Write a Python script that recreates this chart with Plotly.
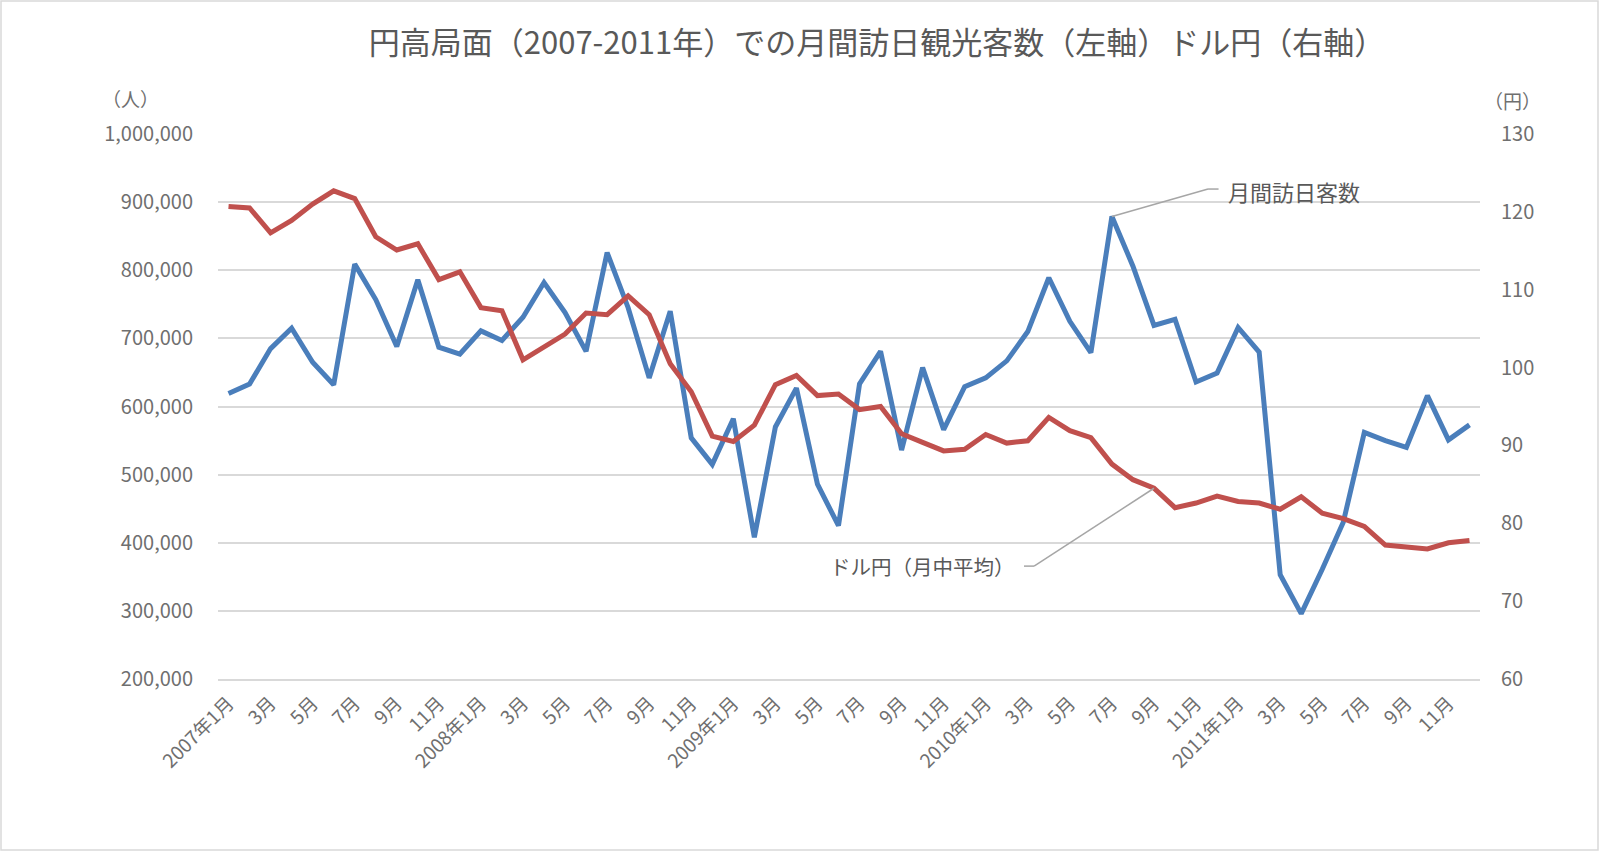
import plotly.graph_objects as go

# ---- data ----
years = [2007, 2008, 2009, 2010, 2011]
month_labels = []
for y in years:
    for m in range(1, 13):
        month_labels.append(f"{y}年{m}月" if m == 1 else f"{m}月")

visitors = [
    619000, 633000, 685000, 715000, 665000, 632000, 809000, 757000, 688000, 786000, 687000, 677000,
    711000, 697000, 731000, 782000, 738000, 681000, 826000, 745000, 642000, 740000, 554000, 515000,
    582000, 408000, 570000, 627000, 486000, 425000, 633000, 681000, 536000, 657000, 566000, 629000,
    642000, 667000, 710000, 789000, 725000, 679000, 879000, 806000, 719000, 728000, 636000, 649000,
    716000, 680000, 353000, 296000, 361000, 430000, 562000, 550000, 540000, 616000, 551000, 573000,
]
usdjpy = [
    120.7, 120.5, 117.3, 118.9, 121.0, 122.7, 121.7, 116.8, 115.1, 115.9, 111.3, 112.3,
    107.7, 107.3, 101.0, 102.6, 104.3, 107.0, 106.8, 109.2, 106.8, 100.5, 96.9, 91.2,
    90.5, 92.6, 97.8, 99.0, 96.4, 96.6, 94.6, 95.0, 91.5, 90.4, 89.3, 89.5,
    91.4, 90.3, 90.6, 93.6, 91.9, 91.0, 87.6, 85.6, 84.5, 82.0, 82.6, 83.5,
    82.8, 82.6, 81.8, 83.4, 81.3, 80.6, 79.6, 77.2, 76.9, 76.7, 77.5, 77.8,
]
left_ticks = [200000, 300000, 400000, 500000, 600000, 700000, 800000, 900000, 1000000]
right_ticks = [60, 70, 80, 90, 100, 110, 120, 130]

title_text = "円高局面（2007-2011年）での月間訪日観光客数（左軸）ドル円（右軸）"
label_visitors = "月間訪日客数"
label_fx = "ドル円（月中平均）"

idx = list(range(len(month_labels)))
tick_idx = idx[::2]
tick_txt = [month_labels[i] for i in tick_idx]

FONT = "Noto Sans CJK JP"
TXT = "#595959"
TICK = "#6f6f6f"
GRID = "#d9d9d9"
BLUE = "#4a7ebb"
RED = "#c0504d"

fig = go.Figure()
fig.add_trace(go.Scatter(x=idx, y=visitors, mode="lines", name=label_visitors,
                         line=dict(color=BLUE, width=5), yaxis="y"))
fig.add_trace(go.Scatter(x=idx, y=usdjpy, mode="lines", name=label_fx,
                         line=dict(color=RED, width=5), yaxis="y2"))

# leader lines (callouts)
pk = 42
fx_pt = 44
lead1 = (46.57, 919200)
lead2 = (38.3, 74.5)
shapes = [
    dict(type="line", xref="x", yref="y", x0=pk, y0=visitors[pk], x1=lead1[0], y1=lead1[1],
         line=dict(color="#a6a6a6", width=1.5)),
    dict(type="line", xref="x", yref="y", x0=lead1[0], y0=lead1[1], x1=lead1[0] + 0.5, y1=lead1[1],
         line=dict(color="#a6a6a6", width=1.5)),
    dict(type="line", xref="x", yref="y2", x0=fx_pt, y0=usdjpy[fx_pt], x1=lead2[0], y1=lead2[1],
         line=dict(color="#a6a6a6", width=1.5)),
    dict(type="line", xref="x", yref="y2", x0=lead2[0], y0=lead2[1], x1=lead2[0] - 0.48, y1=lead2[1],
         line=dict(color="#a6a6a6", width=1.5)),
    # chart-area border
    dict(type="rect", xref="paper", yref="paper",
         x0=(1 - 218) / 1262, x1=(1598 - 218) / 1262,
         y0=(679 - 850) / 545, y1=(679 - 1) / 545,
         line=dict(color="#d9d9d9", width=1.5), fillcolor="rgba(0,0,0,0)", layer="below"),
]

annotations = [
    dict(text=label_visitors, x=lead1[0] + 0.85, y=lead1[1] - 3500, xref="x", yref="y",
         xanchor="left", yanchor="middle", showarrow=False,
         font=dict(family=FONT, size=22, color=TXT)),
    dict(text=label_fx, x=lead2[0] - 0.8, y=lead2[1], xref="x", yref="y2",
         xanchor="right", yanchor="middle", showarrow=False,
         font=dict(family=FONT, size=20.5, color=TXT)),
    dict(text="（人）", x=(130 - 218) / 1262, y=(679 - 98) / 545, xref="paper", yref="paper",
         xanchor="center", yanchor="middle", showarrow=False,
         font=dict(family=FONT, size=19, color=TICK)),
    dict(text="（円）", x=(1512 - 218) / 1262, y=(679 - 100) / 545, xref="paper", yref="paper",
         xanchor="center", yanchor="middle", showarrow=False,
         font=dict(family=FONT, size=19, color=TICK)),
]

fig.update_layout(
    width=1600, height=852, autosize=False,
    margin=dict(l=218, r=120, t=134, b=173, pad=0),
    paper_bgcolor="white", plot_bgcolor="white",
    showlegend=False,
    title=dict(text=title_text, x=877 / 1600, xanchor="center", xref="container",
               y=1 - 43 / 852, yanchor="middle", yref="container",
               font=dict(family=FONT, size=31, color=TXT)),
    xaxis=dict(range=[-0.5, 59.5], tickmode="array", tickvals=tick_idx, ticktext=tick_txt,
               tickangle=-45, showgrid=False, zeroline=False, showline=True, linecolor=GRID,
               linewidth=1.5, ticks="", tickfont=dict(family=FONT, size=19, color=TICK),
               ticklabelstandoff=4),
    yaxis=dict(range=[200000, 1000000], tickmode="array", tickvals=left_ticks, tickformat=",d",
               showgrid=True, gridcolor=GRID, gridwidth=1.5, zeroline=False, showline=False,
               ticks="", tickfont=dict(family=FONT, size=20, color=TICK), ticklabelstandoff=24),
    yaxis2=dict(range=[60, 130], tickmode="array", tickvals=right_ticks, overlaying="y", side="right",
                showgrid=False, zeroline=False, showline=False, ticks="",
                tickfont=dict(family=FONT, size=20, color=TICK), ticklabelstandoff=20),
    shapes=shapes,
    annotations=annotations,
)

fig.write_html("out.html", config={"displayModeBar": False},
               post_script="document.body.style.margin='0px';")
